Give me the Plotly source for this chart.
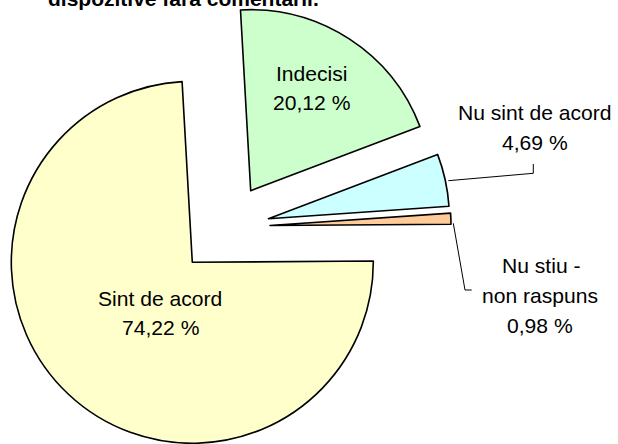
import plotly.graph_objects as go

# ---- data ----
categories = ["Sint de acord", "Indecisi", "Nu sint de acord", "Nu stiu - non raspuns"]
values = [74.22, 20.12, 4.69, 0.98]
value_labels = ["74,22 %", "20,12 %", "4,69 %", "0,98 %"]
label_lines = [["Sint de acord"], ["Indecisi"], ["Nu sint de acord"], ["Nu stiu -", "non raspuns"]]
title_text = "dispozitive fara comentarii."

# ---- styling / layout (positions in pixels) ----
W, H = 618, 444
colors = ["#FFFFCC", "#CCFFCC", "#CCFFFF", "#FFCC99"]
R = 181  # slice radius in px
# apex (exploded centre) of each slice
apex = [(192.3, 262.3), (250.7, 190.7), (268.4, 218.7), (270.0, 225.5)]
# label line centres
label_pos = [
    [(160, 298), (160, 327)],
    [(311.7, 73), (311.7, 103)],
    [(535, 113), (535, 143)],
    [(541.7, 265), (540, 295.5), (540, 325)],
]
FONT = "Liberation Sans, Arial, sans-serif"
FS = 21.1


def px(x):
    return x / W


def py(y):
    return 1 - y / H


fig = go.Figure()
for i in range(len(values)):
    cx, cy = apex[i]
    mcolors = [colors[j] if j == i else "rgba(0,0,0,0)" for j in range(len(values))]
    lwidths = [1.6 if j == i else 0 for j in range(len(values))]
    fig.add_trace(go.Pie(
        labels=categories,
        values=values,
        sort=False,
        direction="clockwise",
        rotation=89.6,
        marker=dict(colors=mcolors, line=dict(color="black", width=lwidths)),
        textinfo="none",
        hoverinfo="label+percent",
        showlegend=False,
        domain=dict(x=[px(cx - R), px(cx + R)], y=[py(cy + R), py(cy - R)]),
    ))

annotations = []
for i in range(len(values)):
    lines = label_lines[i] + [value_labels[i]]
    for txt, (x, y) in zip(lines, label_pos[i]):
        annotations.append(dict(
            text=txt, x=px(x), y=py(y), xref="paper", yref="paper",
            xanchor="center", yanchor="middle", showarrow=False,
            font=dict(family=FONT, size=FS, color="black"),
        ))

annotations.append(dict(
    text="<b>" + title_text + "</b>", x=px(46), y=py(12.5), xref="paper", yref="paper",
    xanchor="left", yanchor="bottom", showarrow=False,
    font=dict(family=FONT, size=21, color="black"),
))


def path(points):
    return "M " + " L ".join(f"{px(x)},{py(y)}" for x, y in points)


shapes = [
    dict(type="path", xref="paper", yref="paper",
         path=path([(448.3, 180.7), (533.3, 173.3), (533.3, 164)]),
         line=dict(color="black", width=1)),
    dict(type="path", xref="paper", yref="paper",
         path=path([(453.3, 223.3), (465, 290), (471.7, 290)]),
         line=dict(color="black", width=1)),
]

fig.update_layout(
    width=W, height=H,
    margin=dict(l=0, r=0, t=0, b=0),
    paper_bgcolor="white", plot_bgcolor="white",
    annotations=annotations, shapes=shapes,
)

fig.write_html(
    "out.html",
    config={"displayModeBar": False},
    post_script="document.body.style.margin='0';document.body.style.overflow='hidden';",
)
